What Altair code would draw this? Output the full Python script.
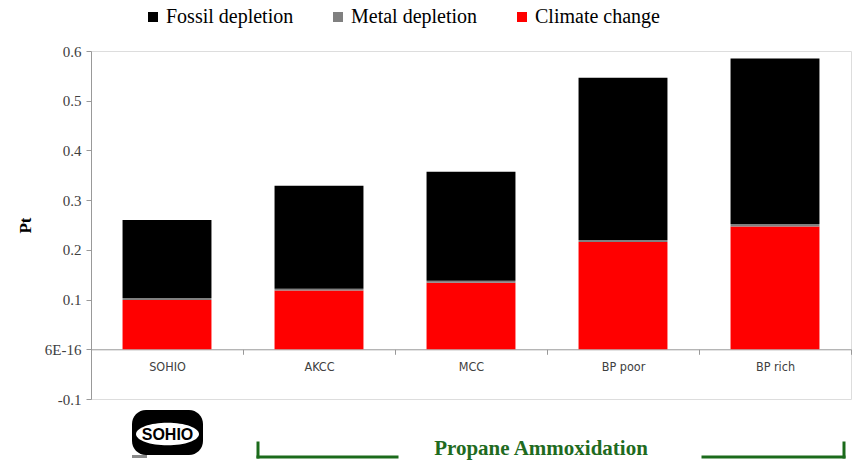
import altair as alt
import pandas as pd

# Impact scores (Pt) per process route, split by impact category
processes = ["SOHIO", "AKCC", "MCC", "BP poor", "BP rich"]
climate_change = [0.099, 0.118, 0.134, 0.216, 0.247]
metal_depletion = [0.004, 0.004, 0.004, 0.004, 0.005]
fossil_depletion = [0.157, 0.207, 0.219, 0.326, 0.333]

categories = ["Fossil depletion", "Metal depletion", "Climate change"]
category_colors = ["#000000", "#808080", "#ff0000"]
stack_rank = {"Climate change": 0, "Metal depletion": 1, "Fossil depletion": 2}

y_ticks = [-0.1, 0.0, 0.1, 0.2, 0.3, 0.4, 0.5, 0.6]
group_label = "Propane Ammoxidation"
logo_text = "SOHIO"

W, H = 760, 348
SERIF = "Times New Roman, Liberation Serif, DejaVu Serif, serif"
SANS_NARROW = "DejaVu Sans Condensed, Liberation Sans Narrow, Liberation Sans"

rows = []
for i, p in enumerate(processes):
    for cat, vals in (("Climate change", climate_change),
                      ("Metal depletion", metal_depletion),
                      ("Fossil depletion", fossil_depletion)):
        rows.append({"process": p, "category": cat, "value": vals[i],
                     "rank": stack_rank[cat]})
df = pd.DataFrame(rows)

y_label_expr = ("datum.value == 0 ? '6E-16' : "
                "(datum.value < 0 ? '-' + format(-datum.value, '.1f') "
                ": format(datum.value, '.1f'))")

bars = alt.Chart(df).mark_bar(width={"band": 0.585}).encode(
    x=alt.X("process:N", sort=processes,
            scale=alt.Scale(paddingInner=0, paddingOuter=0),
            axis=alt.Axis(title=None, labelAngle=0, offset=-H / 7,
                          tickBand="extent", ticks=True, tickSize=5,
                          tickColor="#999999", domainColor="#999999",
                          labelFont=SANS_NARROW,
                          labelFontSize=12.5, labelColor="#404040",
                          labelPadding=6)),
    y=alt.Y("sum(value):Q", stack="zero",
            scale=alt.Scale(domain=[-0.1, 0.6], nice=False, zero=False),
            axis=alt.Axis(title="Pt", values=y_ticks, grid=False,
                          labelExpr=y_label_expr,
                          labelFont=SERIF, labelFontSize=15,
                          labelColor="#404040", tickSize=5,
                          tickColor="#999999", domainColor="#999999",
                          labelPadding=5, titleFont=SERIF,
                          titleFontSize=17, titleFontWeight="bold",
                          titleColor="#000000", titlePadding=10)),
    color=alt.Color("category:N",
                    scale=alt.Scale(domain=categories, range=category_colors),
                    legend=alt.Legend(orient="none", legendX=52, legendY=-44,
                                      direction="horizontal", title=None,
                                      symbolType="square", symbolSize=100,
                                      symbolStrokeWidth=0,
                                      labelFont=SERIF,
                                      labelFontSize=20, labelColor="#000000",
                                      labelOffset=3, columnPadding=34)),
    order=alt.Order("rank:Q", sort="ascending"),
)

one = pd.DataFrame({"k": [0]})
green = "#1b6b1b"

# Ellipse outline (unit half-width, 0.36 half-height) built from cubic curves
oval_path = ("M -1 0 C -1 -0.199 -0.552 -0.36 0 -0.36 "
             "C 0.552 -0.36 1 -0.199 1 0 "
             "C 1 0.199 0.552 0.36 0 0.36 "
             "C -0.552 0.36 -1 0.199 -1 0 Z")

# SOHIO logo below the first bar
logo_bg = alt.Chart(one).mark_rect(color="#000000", cornerRadius=14).encode(
    x=alt.value(41), x2=alt.value(112), y=alt.value(359), y2=alt.value(404))
logo_oval = alt.Chart(one).mark_point(
    shape=oval_path, filled=True, fill="#ffffff", strokeWidth=0,
    opacity=1, size=3969).encode(
    x=alt.value(76.5), y=alt.value(383))
logo_word = alt.Chart(one).mark_text(
    text=logo_text, font="Liberation Sans", fontSize=16, fontWeight="bold",
    color="#000000", align="center", baseline="middle").encode(
    x=alt.value(76.5), y=alt.value(384))
logo_bar = alt.Chart(one).mark_rect(color="#8a8a8a").encode(
    x=alt.value(41), x2=alt.value(56), y=alt.value(404), y2=alt.value(407))

# Bracket spanning the propane ammoxidation routes
rule_style = dict(color=green, strokeWidth=3, strokeCap="square")
left_v = alt.Chart(one).mark_rule(**rule_style).encode(
    x=alt.value(167), y=alt.value(392), y2=alt.value(406))
left_h = alt.Chart(one).mark_rule(**rule_style).encode(
    x=alt.value(167), x2=alt.value(306), y=alt.value(406))
right_h = alt.Chart(one).mark_rule(**rule_style).encode(
    x=alt.value(612), x2=alt.value(753), y=alt.value(406))
right_v = alt.Chart(one).mark_rule(**rule_style).encode(
    x=alt.value(753), y=alt.value(392), y2=alt.value(406))
group_text = alt.Chart(one).mark_text(
    text=group_label, font=SERIF, fontSize=21, fontWeight="bold",
    color="#1f6b1f", align="center", baseline="alphabetic").encode(
    x=alt.value(450), y=alt.value(404))

chart = alt.layer(
    bars, logo_bg, logo_oval, logo_word, logo_bar,
    left_v, left_h, right_h, right_v, group_text,
).properties(
    width=W, height=H,
    autosize=alt.AutoSizeParams(type="none"),
    padding={"left": 91, "top": 51, "right": 9, "bottom": 63},
).configure_view(strokeWidth=0).configure(background="#ffffff")

chart.save("out.html", embed_options={"renderer": "svg", "actions": False})
